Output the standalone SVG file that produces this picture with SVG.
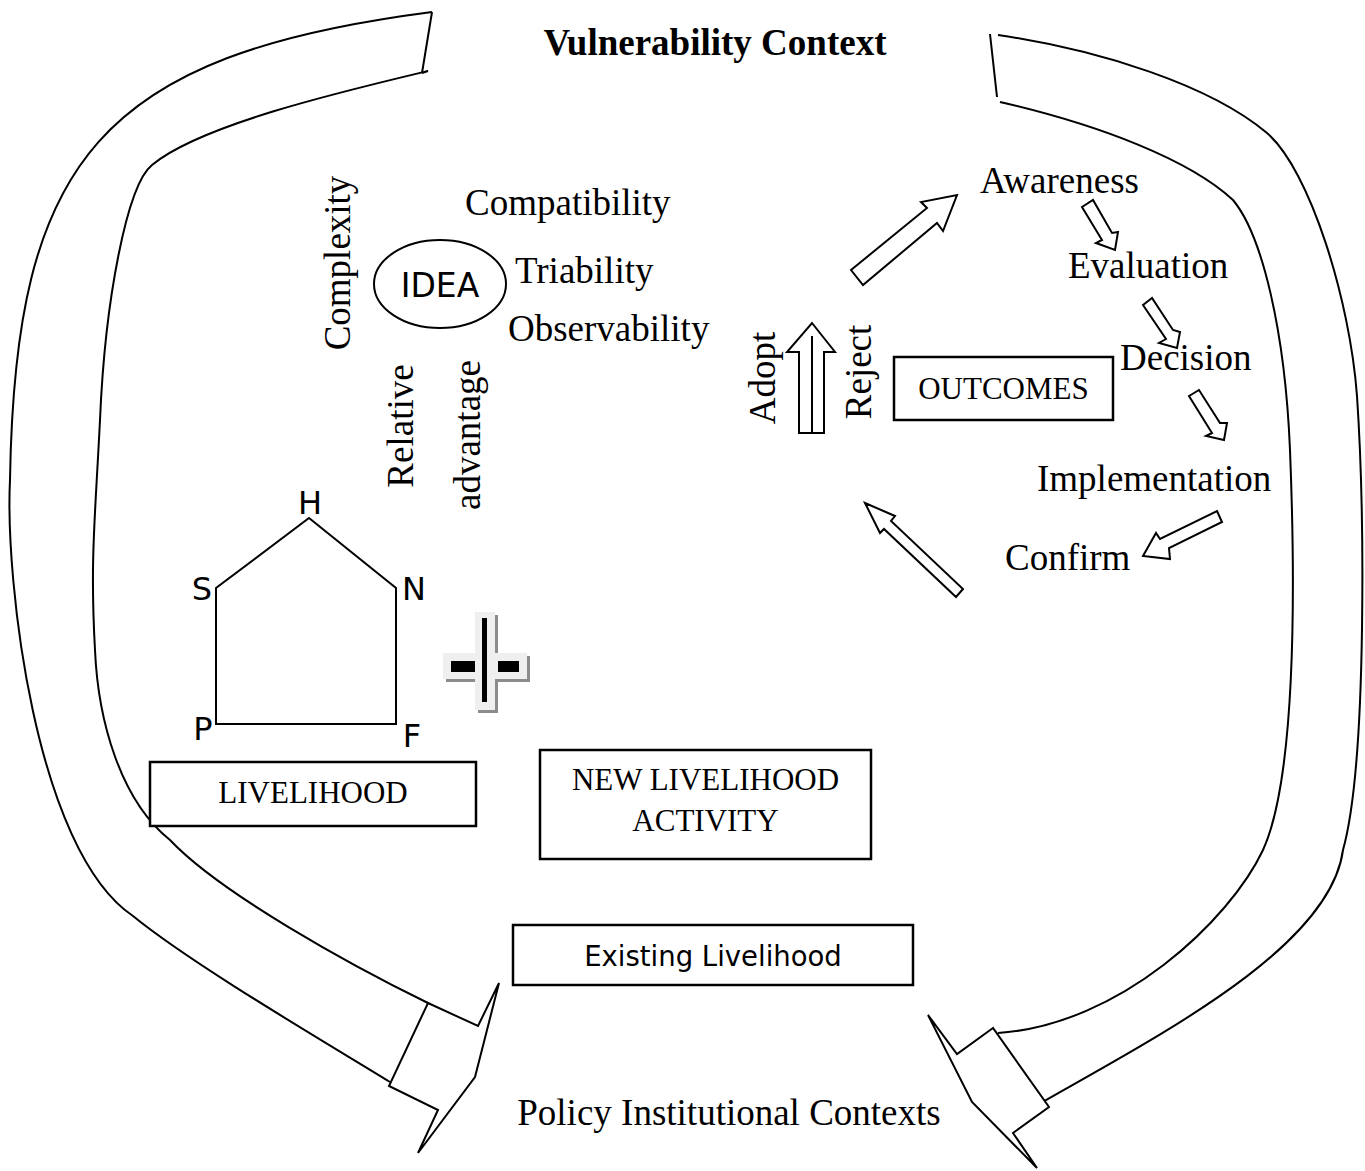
<svg xmlns="http://www.w3.org/2000/svg" width="1365" height="1171" viewBox="0 0 1365 1171">
<style>
.ln{fill:none;stroke:#000;stroke-width:2}
.blk{fill:#fff;stroke:#000;stroke-width:2;stroke-linejoin:miter}
.box{fill:#fff;stroke:#000;stroke-width:2.5}
.ser{font-family:"Liberation Serif","Times New Roman",serif;font-size:37px;fill:#000}
.cap{font-family:"Liberation Serif","Times New Roman",serif;font-size:31px;fill:#000}
.sans{font-family:"DejaVu Sans",Verdana,sans-serif;fill:#000}
</style>
<rect width="1365" height="1171" fill="#fff"/>
<g id="connectors">
  <!-- left band -->
  <path class="ln" d="M432,12 C100,55 15,160 10,480 C5,580 35,850 133,916 C193,965 330,1045 390,1082"/>
  <path class="ln" d="M422,73 L428,71 C340,92 200,125 152,165 C127,185 105,300 100,420 C95,520 90,560 95,650 C98,720 120,800 170,840 C220,893 350,965 428,1003"/>
  <path class="ln" d="M432,12 L422,73"/>
  <path class="blk" d="M428,1003 L478,1026 L499,983 L475,1077 L418,1153 L438,1110 L389,1086 Z"/>
  <!-- right band -->
  <path class="ln" d="M998,35 C1100,50 1210,85 1267,133 C1310,170 1350,300 1357,396 C1364,500 1368,760 1343,850 C1330,950 1150,1040 1034,1107"/>
  <path class="ln" d="M1000,102 C1100,125 1190,160 1233,200 C1262,235 1285,330 1290,450 C1296,600 1295,780 1263,850 C1230,920 1120,1025 998,1033"/>
  <path class="ln" d="M990,34 L997,97"/>
  <path class="blk" d="M993,1028 L957,1054 L928,1015 L972,1102 L1037,1168 L1013,1133 L1049,1107 Z"/>
  <!-- block arrows -->
  <path class="blk" d="M851,270 L927,208 L921,202 L957,195 L943,231 L937,223 L863,285 Z"/>
  <path class="blk" d="M812,323 L835,352 L824,352 L824,433 L799,433 L799,352 L787,352 Z"/>
  <path class="ln" d="M812,336 L812,433"/>
  <path class="blk" d="M1082,207 L1093,200 L1112,233 L1118,232 L1115,250 L1096,243 L1102,240 Z"/>
  <path class="blk" d="M1143,305 L1152,298 L1173,330 L1180,332 L1177,348 L1159,343 L1166,339 Z"/>
  <path class="blk" d="M1189,396 L1199,390 L1220,423 L1227,423 L1224,440 L1206,436 L1212,433 Z"/>
  <path class="blk" d="M1217,511 L1222,522 L1169,548 L1170,559 L1143,556 L1156,533 L1160,539 Z"/>
  <path class="blk" d="M865,503 L895,516 L891,521 L963,589 L956,597 L884,529 L880,533 Z"/>
</g>
<g id="title"><text class="ser" x="715" y="55" text-anchor="middle" font-weight="bold">Vulnerability Context</text></g>
<g id="idea">
  <ellipse cx="440" cy="284" rx="66" ry="44" fill="#fff" stroke="#000" stroke-width="2"/>
  <text class="sans" x="440" y="297" font-size="33" text-anchor="middle">IDEA</text>
</g>
<g id="attributes">
  <text class="ser" x="465" y="215">Compatibility</text>
  <text class="ser" x="515" y="283">Triability</text>
  <text class="ser" x="508" y="341">Observability</text>
  <text class="ser" transform="translate(350,263) rotate(-90)" text-anchor="middle">Complexity</text>
  <text class="ser" transform="translate(413,426) rotate(-90)" text-anchor="middle">Relative</text>
  <text class="ser" transform="translate(480,435) rotate(-90)" text-anchor="middle">advantage</text>
</g>
<g id="process">
  <text class="ser" x="980" y="193">Awareness</text>
  <text class="ser" x="1068" y="278">Evaluation</text>
  <text class="ser" x="1120" y="370">Decision</text>
  <text class="ser" x="1037" y="491">Implementation</text>
  <text class="ser" x="1005" y="570">Confirm</text>
  <text class="ser" transform="translate(775,378) rotate(-90)" text-anchor="middle">Adopt</text>
  <text class="ser" transform="translate(871,372) rotate(-90)" text-anchor="middle">Reject</text>
</g>
<g id="outcomes">
  <rect class="box" x="894" y="357" width="219" height="63"/>
  <text class="cap" x="1003.5" y="399" text-anchor="middle">OUTCOMES</text>
</g>
<g id="house">
  <path class="ln" d="M309,518 L396,588 L396,724 L216,724 L216,588 Z"/>
  <text class="sans" x="310" y="514" font-size="32" text-anchor="middle">H</text>
  <text class="sans" x="202" y="600" font-size="32" text-anchor="middle">S</text>
  <text class="sans" x="414" y="600" font-size="32" text-anchor="middle">N</text>
  <text class="sans" x="203" y="740" font-size="32" text-anchor="middle">P</text>
  <text class="sans" x="412" y="747" font-size="32" text-anchor="middle">F</text>
</g>
<g id="plus">
  <rect x="478" y="615" width="20" height="98" fill="#8c8c8c"/>
  <rect x="446" y="656" width="84" height="26" fill="#8c8c8c"/>
  <rect x="475" y="612" width="20" height="98" fill="#efefef"/>
  <rect x="443" y="653" width="84" height="26" fill="#efefef"/>
  <rect x="451" y="661" width="24" height="11" fill="#000"/>
  <rect x="498" y="661" width="21" height="11" fill="#000"/>
  <rect x="482" y="618" width="5" height="84" fill="#000"/>
</g>
<g id="livelihood">
  <rect class="box" x="150" y="762" width="326" height="64"/>
  <text class="cap" x="313" y="803" text-anchor="middle">LIVELIHOOD</text>
</g>
<g id="new-activity">
  <rect class="box" x="540" y="750" width="331" height="109"/>
  <text class="cap" x="705.5" y="790" text-anchor="middle">NEW LIVELIHOOD</text>
  <text class="cap" x="705.5" y="831" text-anchor="middle">ACTIVITY</text>
</g>
<g id="existing">
  <rect class="box" x="513" y="925" width="400" height="60"/>
  <text class="sans" x="713" y="966" font-size="27.5" text-anchor="middle">Existing Livelihood</text>
</g>
<g id="policy"><text class="ser" x="729" y="1125" text-anchor="middle">Policy Institutional Contexts</text></g>
</svg>
